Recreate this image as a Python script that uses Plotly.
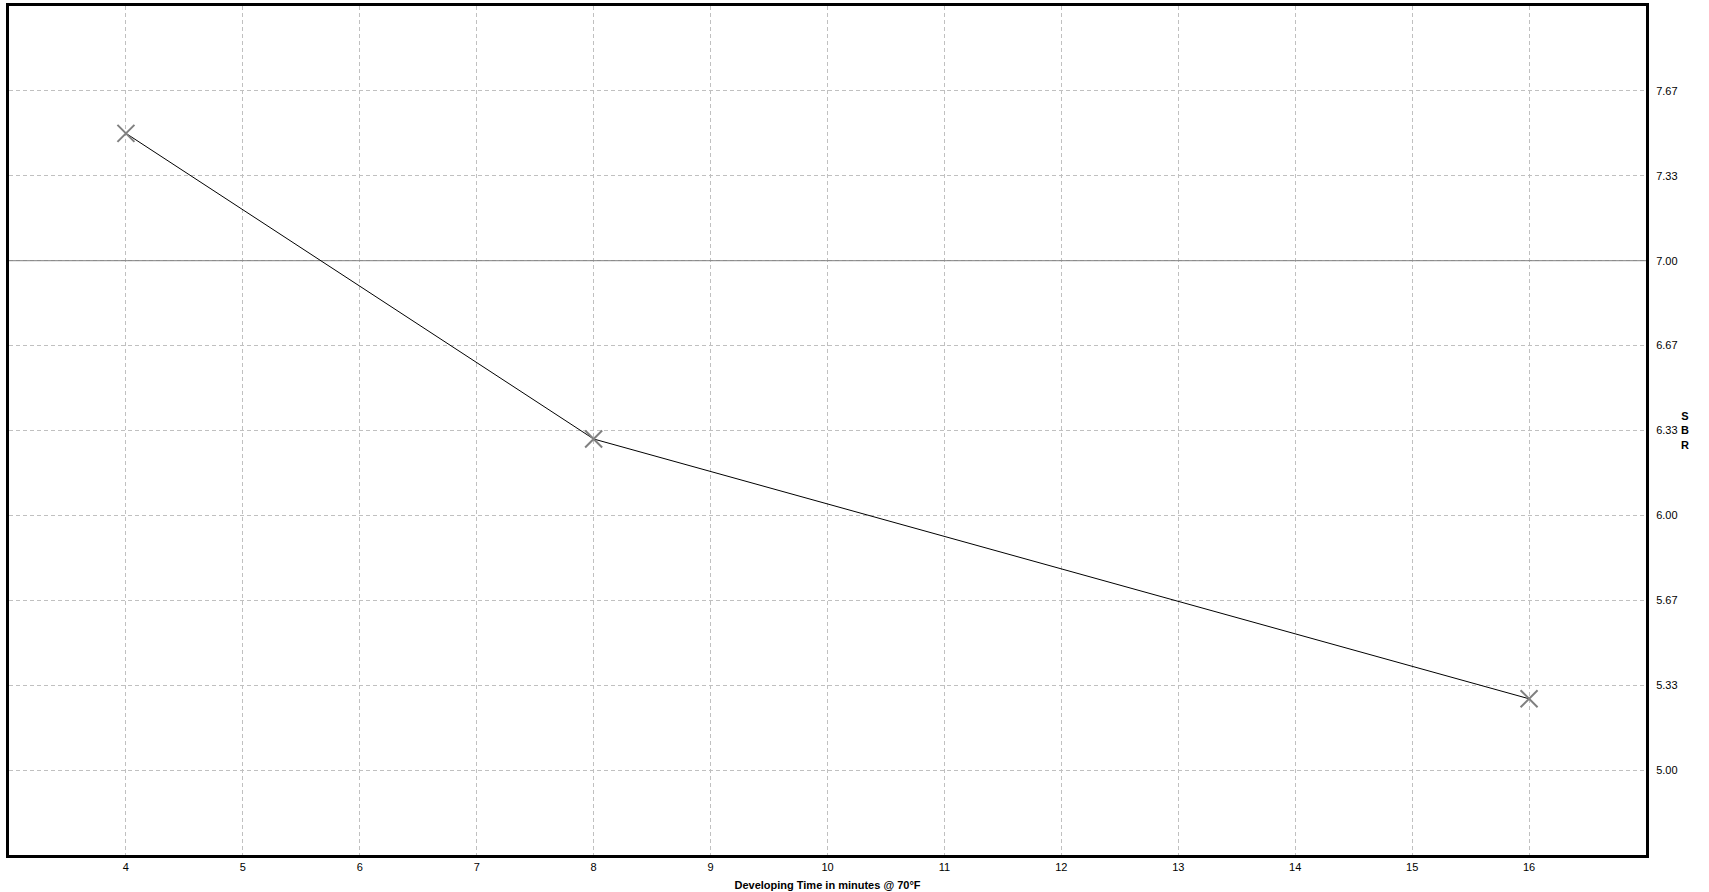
import plotly.graph_objects as go

# Data
dev_time = [4, 8, 16]
sbr = [7.50, 6.30, 5.28]

x_min, x_max = 3, 17
x_grid = list(range(x_min, x_max + 1))
x_labels = [""] + [str(v) for v in range(4, 17)] + [""]
y_grid = [14/3, 5.0, 16/3, 17/3, 6.0, 19/3, 20/3, 7.0, 22/3, 23/3, 8.0]
y_labels = ["", "5.00", "5.33", "5.67", "6.00", "6.33", "6.67", "7.00", "7.33", "7.67", ""]
ref_value = 7.0

fig = go.Figure()
fig.add_trace(go.Scatter(
    x=[x_min, x_max], y=[ref_value, ref_value], mode="lines",
    line=dict(color="#808080", width=1), cliponaxis=True,
    showlegend=False, hoverinfo="skip"))
fig.add_trace(go.Scatter(
    x=dev_time, y=sbr, mode="lines",
    line=dict(color="black", width=1),
    showlegend=False, hoverinfo="skip"))
fig.add_trace(go.Scatter(
    x=dev_time, y=sbr, mode="markers",
    marker=dict(symbol="x-thin", size=17, color="#808080",
                line=dict(color="#808080", width=2)),
    showlegend=False))

font = dict(family="Liberation Sans, Arial, sans-serif", size=11, color="black")

fig.update_layout(
    width=1709, height=892,
    margin=dict(l=9, r=63, t=6, b=37),
    plot_bgcolor="white", paper_bgcolor="white",
    font=font,
    xaxis=dict(range=[x_min, x_max], tickvals=x_grid, ticktext=x_labels, automargin=False,
               showgrid=True, gridcolor="#c0c0c0", griddash="4px,3px", gridwidth=1,
               zeroline=False, showline=True, linecolor="black", linewidth=3, mirror=True,
               ticks="", ticklabelstandoff=0,
               title=dict(text="<b>Developing Time in minutes @ 70°F</b>", font=font, standoff=10)),
    yaxis=dict(range=[14/3, 8.0], tickvals=y_grid, ticktext=y_labels, side="right", automargin=False,
               showgrid=True, gridcolor="#c0c0c0", griddash="4px,3px", gridwidth=1,
               zeroline=False, showline=True, linecolor="black", linewidth=3, mirror=True,
               ticks="", ticklabelstandoff=5),
    annotations=[dict(text="<b>S<br>B<br>R</b>", xref="paper", yref="paper",
                      x=1 + (1685 - 1646) / 1637, y=0.5, xanchor="center", yanchor="middle",
                      showarrow=False, font=font)],
)

fig.write_html("out.html", config={"displayModeBar": False},
               post_script="document.body.style.margin='0';document.body.style.overflow='hidden';")
